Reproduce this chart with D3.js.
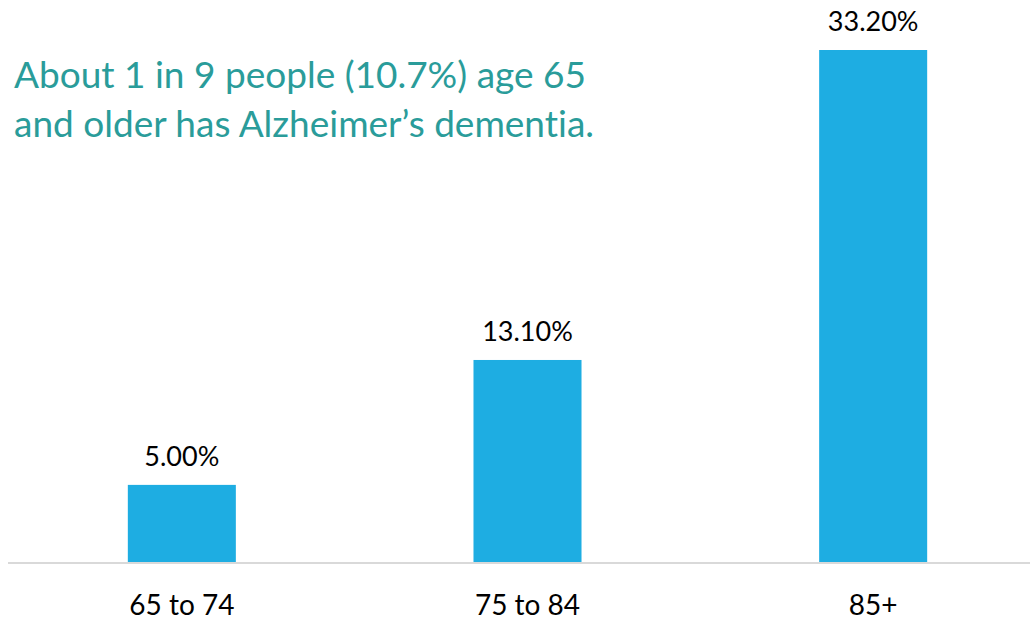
<!DOCTYPE html>
<html>
<head>
<meta charset="utf-8">
<script src="https://cdn.jsdelivr.net/npm/d3@7"></script>
<style>
  html, body { margin: 0; padding: 0; background: #fff; }
  svg { display: block; }
  text { font-family: Lato, "Open Sans", sans-serif; font-variant-ligatures: none; font-feature-settings: "liga" 0; }
</style>
</head>
<body>
<svg id="chart" width="1030" height="620"></svg>
<script>
// Prevalence of Alzheimer's dementia by age group (percent)
const categories = ["65 to 74", "75 to 84", "85+"];
const values = [5.0, 13.1, 33.2];
const valueLabels = ["5.00%", "13.10%", "33.20%"];
const noteLines = [
  "About 1 in 9 people (10.7%) age 65",
  "and older has Alzheimer\u2019s dementia."
];

const W = 1030, H = 620;
const baseline = 562;
const svg = d3.select("#chart");

const x = d3.scaleBand()
  .domain(categories)
  .range([9, 1046])
  .paddingInner(0.6875)
  .paddingOuter(0.34375);

const y = d3.scaleLinear()
  .domain([0, 33.2])
  .range([baseline, 50]);

// bars
svg.append("g")
  .selectAll("rect")
  .data(values)
  .join("rect")
  .attr("x", (d, i) => x(categories[i]))
  .attr("y", d => y(d))
  .attr("width", x.bandwidth())
  .attr("height", d => y(0) - y(d))
  .attr("fill", "#1eade2");

// category axis
const axis = svg.append("g")
  .attr("transform", `translate(0,${baseline + 1})`)
  .call(d3.axisBottom(x).tickSize(0).tickPadding(0));
axis.select(".domain").remove();
axis.append("line")
  .attr("x1", 8).attr("x2", W)
  .attr("y1", 0).attr("y2", 0)
  .attr("stroke", "#d9d9d9")
  .attr("stroke-width", 2);
axis.selectAll(".tick text")
  .attr("y", 52)
  .attr("dy", null)
  .attr("fill", "#000")
  .style("font-family", "Lato, 'Open Sans', sans-serif")
  .style("font-size", "28px");

// value labels
svg.append("g")
  .selectAll("text")
  .data(values)
  .join("text")
  .attr("x", (d, i) => x(categories[i]) + x.bandwidth() / 2)
  .attr("y", d => y(d) - 19)
  .attr("text-anchor", "middle")
  .attr("fill", "#000")
  .style("font-size", "27px")
  .text((d, i) => valueLabels[i]);

// annotation
svg.append("g")
  .selectAll("text")
  .data(noteLines)
  .join("text")
  .attr("x", 14)
  .attr("y", (d, i) => 88 + i * 49)
  .attr("fill", "#2a9c9a")
  .style("font-size", "37px")
  .text(d => d);
</script>
</body>
</html>
